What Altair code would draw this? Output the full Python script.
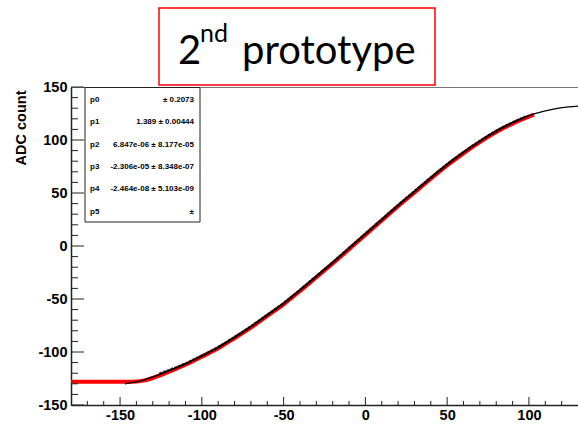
import altair as alt
import pandas as pd

# ---- data ----
fit_x = [-147, -135, -124, -110, -100, -90, -80, -70, -60, -50, -40, -30, -20, -10, 0,
         10, 20, 30, 40, 50, 60, 70, 80, 90, 100, 110, 120, 130]
fit_y = [-130, -126, -120, -111, -103.5, -95.5, -86, -76, -65, -54, -41.5, -28.5, -15.5, -2, 11.5,
         25, 38.5, 51.5, 64.5, 77, 88.5, 99, 108.5, 116.5, 123, 127.5, 130.5, 132]

red_x = [-180, -160, -145, -140, -135, -124, -110, -100, -90, -80, -70, -60, -50, -40, -30, -20, -10, 0,
         10, 20, 30, 40, 50, 60, 70, 80, 90, 100, 103]
red_y = [-128, -128, -128, -127.8, -126.8, -121, -112, -104.5, -96.5, -87, -77, -66, -55, -42.5, -29.5, -16.5, -3, 10.5,
         24, 37.5, 50.5, 63.5, 76, 87.5, 98, 107.5, 115.5, 122, 124]

meas_x = [-126, -110, -100, -90, -80, -70, -60, -50, -40, -30, -20, -10, 0,
          10, 20, 30, 40, 50, 60, 70, 80, 90, 98]
meas_y = [-120.5, -111, -103.5, -95.5, -86, -76, -65, -54, -41.5, -28.5, -15.5, -2, 11.5,
          25, 38.5, 51.5, 64.5, 77, 88.5, 99, 108.5, 116.5, 122]

x_major = [-150, -100, -50, 0, 50, 100]
x_minor = [v for v in range(-170, 130, 10) if v % 50 != 0]
y_major = [-150, -100, -50, 0, 50, 100, 150]
y_minor = [v for v in range(-140, 150, 10) if v % 50 != 0]

stat_names = ["p0", "p1", "p2", "p3", "p4", "p5"]
stat_values = ["\u00b1 0.2073", "1.389 \u00b1 0.00444", "6.847e-06 \u00b1 8.177e-05",
               "-2.306e-05 \u00b1 8.348e-07", "-2.464e-08 \u00b1 5.103e-09", "\u00b1"]

W, H = 507, 318
XD = [-180, 130]
YD = [-150, 150]

xs = alt.Scale(domain=XD, nice=False, zero=False)
ys = alt.Scale(domain=YD, nice=False, zero=False)

red_df = pd.DataFrame({"x": red_x, "y": red_y})
meas_df = pd.DataFrame({"x": meas_x, "y": meas_y})
fit_df = pd.DataFrame({"x": fit_x, "y": fit_y})

FONT = "Liberation Sans"
LBL = "'' + datum.value"

base_x = alt.X("x:Q", scale=xs,
               axis=alt.Axis(values=x_major, ticks=False, grid=False, labelPadding=3,
                             labelFont=FONT, labelFontWeight="bold", labelFontSize=14.5,
                             labelColor="black", domainColor="#222", domainWidth=1.5,
                             title=None, labelFlush=False, labelExpr=LBL))
base_y = alt.Y("y:Q", scale=ys,
               axis=alt.Axis(values=y_major, ticks=False, grid=False, labelPadding=4,
                             labelFont=FONT, labelFontWeight="bold", labelFontSize=14.5,
                             labelColor="black", domainColor="#222", domainWidth=1.5,
                             labelFlush=False, labelExpr=LBL,
                             title="ADC count", titleFont=FONT, titleFontWeight="bold",
                             titleFontSize=14.5, titleColor="black", titleAngle=-90,
                             titleAlign="right", titleBaseline="alphabetic",
                             titleX=-46, titleY=3))

red = alt.Chart(red_df).mark_line(color="#ff0000", strokeWidth=4, interpolate="monotone", clip=True).encode(
    x=base_x, y=base_y, order=alt.Order("x:Q"))
meas = alt.Chart(meas_df).mark_line(color="#111", strokeWidth=2.8, interpolate="monotone", opacity=0.8,
                                    strokeDash=[3, 1], clip=True).encode(
    x=alt.X("x:Q", scale=xs), y=alt.Y("y:Q", scale=ys), order=alt.Order("x:Q"))
fit = alt.Chart(fit_df).mark_line(color="black", strokeWidth=1.3, interpolate="monotone", clip=True).encode(
    x=alt.X("x:Q", scale=xs), y=alt.Y("y:Q", scale=ys), order=alt.Order("x:Q"))

# inner ticks (ROOT style)
xmaj = alt.Chart(pd.DataFrame({"x": x_major})).mark_rule(color="#222", strokeWidth=1).encode(
    x=alt.X("x:Q", scale=xs), y=alt.value(H), y2=alt.value(H - 8))
xmin = alt.Chart(pd.DataFrame({"x": x_minor})).mark_rule(color="#222", strokeWidth=1).encode(
    x=alt.X("x:Q", scale=xs), y=alt.value(H), y2=alt.value(H - 4))
ymaj = alt.Chart(pd.DataFrame({"y": y_major})).mark_rule(color="#222", strokeWidth=1).encode(
    y=alt.Y("y:Q", scale=ys), x=alt.value(0), x2=alt.value(13))
ymin = alt.Chart(pd.DataFrame({"y": y_minor})).mark_rule(color="#222", strokeWidth=1).encode(
    y=alt.Y("y:Q", scale=ys), x=alt.value(0), x2=alt.value(7))

# statistics box
stat_box = alt.Chart(pd.DataFrame({"a": [0]})).mark_rect(fill="white", stroke="#222", strokeWidth=1).encode(
    x=alt.value(14), x2=alt.value(129), y=alt.value(0.5), y2=alt.value(135))
stat_layers = []
for i, (n, v) in enumerate(zip(stat_names, stat_values)):
    yy = 13 + i * 22.35
    stat_layers.append(alt.Chart(pd.DataFrame({"t": [n]})).mark_text(
        font=FONT, fontWeight="bold", fontSize=8, align="left", baseline="middle", color="black").encode(
        text="t:N", x=alt.value(19), y=alt.value(yy)))
    stat_layers.append(alt.Chart(pd.DataFrame({"t": [v]})).mark_text(
        font=FONT, fontWeight="bold", fontSize=8, align="right", baseline="middle", color="black").encode(
        text="t:N", x=alt.value(123), y=alt.value(yy)))

# title box
title_box = alt.Chart(pd.DataFrame({"a": [0]})).mark_rect(fill="white", stroke="#ff0000", strokeWidth=1.5).encode(
    x=alt.value(88), x2=alt.value(364), y=alt.value(-79), y2=alt.value(-2))
t_main = alt.Chart(pd.DataFrame({"t": ["2"]})).mark_text(
    font="Lato", fontSize=40, align="left", baseline="alphabetic", color="black").encode(
    text="t:N", x=alt.value(107), y=alt.value(-23.5))
t_sup = alt.Chart(pd.DataFrame({"t": ["nd"]})).mark_text(
    font="Lato", fontSize=25, align="left", baseline="alphabetic", color="black").encode(
    text="t:N", x=alt.value(129), y=alt.value(-45))
t_rest = alt.Chart(pd.DataFrame({"t": ["prototype"]})).mark_text(
    font="Lato", fontSize=40, align="left", baseline="alphabetic", color="black").encode(
    text="t:N", x=alt.value(171), y=alt.value(-23.5))

chart = alt.layer(
    red, meas, fit, xmaj, xmin, ymaj, ymin, stat_box, *stat_layers, title_box, t_main, t_sup, t_rest
).properties(
    width=W, height=H,
    padding={"left": 71, "top": 87, "right": 0, "bottom": 20},
    autosize=alt.AutoSizeParams(type="none"),
    background="white",
).configure_view(stroke="#777", strokeWidth=1)

chart.save("out.html", embed_options={"renderer": "svg", "actions": False})
